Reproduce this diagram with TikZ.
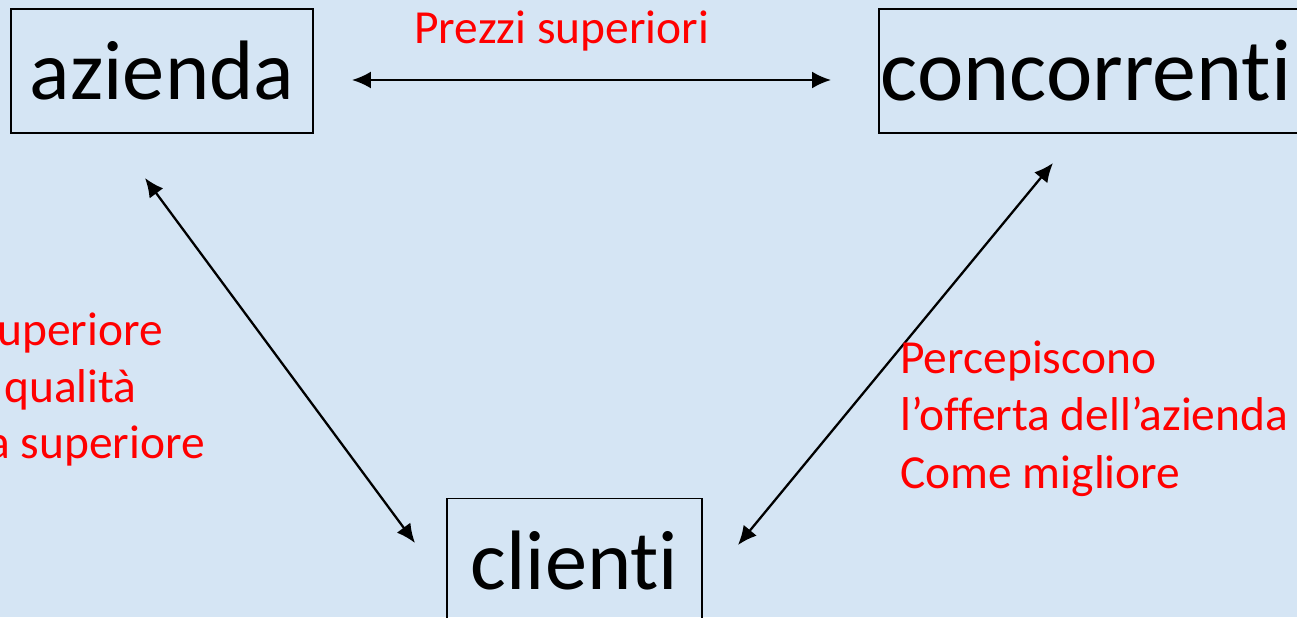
\documentclass[tikz,border=0pt]{standalone}
\usepackage{fontspec}
\setmainfont{Carlito}[Ligatures=CommonOff]
\usetikzlibrary{arrows.meta,positioning}
\definecolor{bgblue}{RGB}{213,229,244}
\definecolor{notered}{RGB}{255,0,0}

\begin{document}
\begin{tikzpicture}[>={Latex[length=3.8mm,width=3.4mm]}]
  \tikzstyle{actor}=[draw,line width=1.1pt,inner xsep=0.04cm,minimum height=2.48cm,font=\fontsize{48}{58}\selectfont]
  \tikzstyle{note}=[text=notered,inner sep=0pt,anchor=base west,font=\fontsize{27}{32.5}\selectfont]
  \tikzstyle{link}=[<->,line width=1.3pt]
  % sfondo
  \fill[bgblue] (0,0) rectangle (25.94,12.34);
  \useasboundingbox (0,0) rectangle (25.94,12.34);
  \clip (0,0) rectangle (25.94,12.34);
  % i tre attori
  \node[actor,minimum width=6.04cm] (azienda) at (3.24,10.92) {azienda};
  \node[actor,anchor=west,text width=8.8cm,align=left,font=\fontsize{50}{60}\selectfont] (concorrenti) at (17.56,10.92) {concorrenti};
  \node[actor,minimum width=5.1cm] (clienti) at (11.49,1.13) {clienti};
  % estremi delle frecce oblique
  \coordinate (aziendaTip) at (2.9,8.78);
  \coordinate (clientiL) at (8.3,1.48);
  \coordinate (concorrentiTip) at (21.06,9.08);
  \coordinate (clientiR) at (14.76,1.44);
  \draw[link,shorten <=0.76cm,shorten >=0.94cm] ([yshift=-0.18cm]azienda.east) -- ([yshift=-0.18cm]concorrenti.west);
  \draw[link] (aziendaTip) -- (clientiL);
  \draw[link] (concorrentiTip) -- (clientiR);
  % etichette
  \node[note] (prezzi) at (8.28,11.48) {Prezzi superiori};
  \foreach \n/\x/\y/\t in {sup/-0.06/5.44/uperiore,qual/0.08/4.3/qualità,perc/-0.26/3.18/a superiore}
    \node[note] (\n) at (\x,\y) {\t};
  \node[note,align=left] (percezione) at (18.0,2.58) {Percepiscono\\l’offerta dell’azienda\\Come migliore};
\end{tikzpicture}
\end{document}
